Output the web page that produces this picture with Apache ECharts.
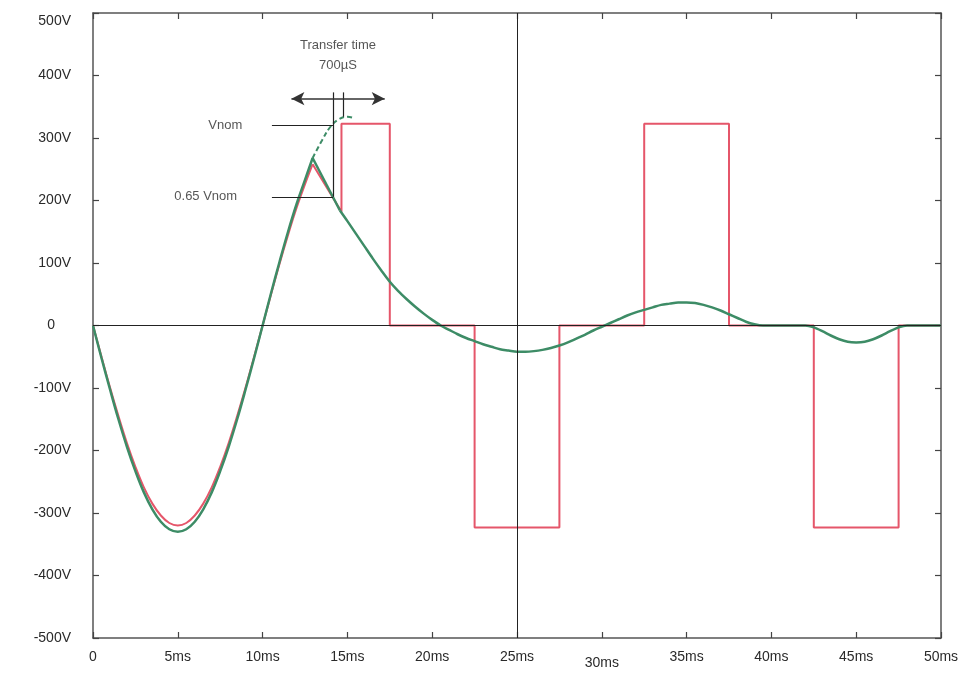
<!DOCTYPE html>
<html><head><meta charset="utf-8">
<script src="https://cdn.jsdelivr.net/npm/echarts@6/dist/echarts.min.js"></script>
<style>html,body{margin:0;padding:0;background:#fff}#c{width:974px;height:675px}</style>
</head><body><div id="c"></div>
<script>
// X ticks (ms) and Y ticks (V)
const xTicks = [0,5,10,15,20,25,30,35,40,45,50];
const yTicks = [-500,-400,-300,-200,-100,0,100,200,300,400,500];

// Output voltage (red): mains sine until failure, then inverter square wave
const redSineT = [0,0.5,1,1.5,2,2.5,3,3.5,4,4.5,5,5.5,6,6.5,7,7.5,8,8.5,9,9.5,10,10.5,11,11.5,12,12.5,12.95];
const redSineV = [0,-50,-99,-145,-188,-226,-259,-285,-304,-316,-320,-316,-304,-285,-259,-226,-188,-145,-99,-50,0,50,99,145,188,226,258];
const redStepT = [12.95,14.65,14.65,17.5,17.5,22.5,22.5,27.5,27.5,32.5,32.5,37.5,37.5,42.5,42.5,47.5,47.5,50];
const redStepV = [258,182,323,323,0,0,-323,-323,0,0,323,323,0,0,-323,-323,0,0];

// Load voltage (green)
const greenSineT = [0,0.5,1,1.5,2,2.5,3,3.5,4,4.5,5,5.5,6,6.5,7,7.5,8,8.5,9,9.5,10,10.5,11,11.5,12,12.5,12.95];
const greenSineV = [0,-52,-102,-150,-194,-233,-267,-294,-314,-326,-330,-326,-314,-294,-267,-233,-194,-150,-102,-52,0,52,102,150,194,233,268];
const greenDropT = [12.95,14.56];
const greenDropV = [268,184];
const greenDecayT = [14.56,15,15.5,16,16.5,17,17.5,18,18.5,19,19.5,20,20.5,21,21.5,22,22.5,23,23.5,24,24.5,25,25.5,26,26.5,27,27.5,28,28.5,29,29.5,30,30.5,31,31.5,32,32.5,33,33.5,34,34.5,35,35.5,36,36.5,37,37.5,38,38.5,39,39.5,40,41,42,42.5,43,43.5,44,44.5,45,45.5,46,46.5,47,47.5,48,49,50];
const greenDecayV = [184,167,147,127,107,88,70,55,42,30,19,9,0,-7,-14,-20,-25,-30,-34,-38,-40,-42,-42,-41,-39,-36,-32,-27,-21,-15,-8,-2,4,10,16,21,25,29,33,35,37,37,36,33,29,24,18,12,6,2,0,0,0,0,-3,-9,-16,-22,-26,-27,-26,-22,-16,-9,-3,0,0,0];
// Mains sine continuation (dashed)
const dashT = [12.95,13.5,14,14.5,15,15.4];
const dashV = [268,296,318,330,334,332];

// Annotations (data units)
const vnomLevel = 320, v065Level = 206;
const annotLeftT = 10.55, cursorT1 = 14.15, cursorT2 = 14.74;
const arrowLevel = 363, arrowLeftT = 11.7, arrowRightT = 17.2, cursorTopV = 373;
const titleLines = ['Transfer time','700µS'];
const titleV = [448, 416];
const labelNames = ['Vnom','0.65 Vnom'];

const zip = (a,b) => a.map((v,i)=>[v,b[i]]);
const red = '#e5566a', green = '#3d8c66', ink = '#2a2a2a';
const font = 'Liberation Sans, Arial, sans-serif';

const chart = echarts.init(document.getElementById('c'), null, {renderer:'canvas'});
const axisCommon = {
  type:'value',
  axisLine:{show:true, onZero:false, lineStyle:{color:'#555', width:1.5}},
  axisTick:{show:true, inside:true, length:6, lineStyle:{color:'#444', width:1.2}},
  splitLine:{show:false}
};
const aLine = {color:'#222', width:1.2, type:'solid'};
const lblRich = {
  low:{padding:[6,0,0,0], fontSize:14, color:ink, fontFamily:font},
  top:{padding:[16,0,0,0], fontSize:14, color:ink, fontFamily:font},
  zero:{padding:[0,16,0,0], fontSize:14, color:ink, fontFamily:font}
};
chart.setOption({
  animation:false,
  grid:{left:93, right:33, top:13, bottom:37},
  xAxis:[
    Object.assign({}, axisCommon, {min:xTicks[0], max:xTicks[xTicks.length-1], interval:5, position:'bottom',
      axisLabel:{margin:12, color:ink, fontSize:14, fontFamily:font,
        formatter:v => v===0 ? '0' : (v===30 ? '{low|30ms}' : v+'ms'), rich:lblRich}}),
    Object.assign({}, axisCommon, {min:xTicks[0], max:xTicks[xTicks.length-1], interval:5, position:'top', axisLabel:{show:false}})
  ],
  yAxis:[
    Object.assign({}, axisCommon, {min:yTicks[0], max:yTicks[yTicks.length-1], interval:100, position:'left',
      axisLabel:{margin:22, color:ink, fontSize:14, fontFamily:font, rich:lblRich,
        formatter:v => v===0 ? '{zero|0}' : (v===500 ? '{top|500V}' : v+'V')}}),
    Object.assign({}, axisCommon, {min:yTicks[0], max:yTicks[yTicks.length-1], interval:100, position:'right', axisLabel:{show:false}})
  ],
  series:[
    {type:'line', data:[], markLine:{silent:true, symbol:'none', label:{show:false}, lineStyle:{color:'#222', width:1, type:'solid'},
      data:[ [{coord:[25,yTicks[0]]},{coord:[25,yTicks[yTicks.length-1]]}], [{coord:[xTicks[0],0]},{coord:[xTicks[xTicks.length-1],0]}] ]}},
    {type:'line', data:zip(redSineT, redSineV), smooth:0.4, showSymbol:false, lineStyle:{color:red, width:2}, z:3},
    {type:'line', data:zip(redStepT, redStepV), smooth:false, showSymbol:false, lineStyle:{color:red, width:2}, z:3},
    {type:'line', data:zip(dashT, dashV), smooth:0.4, showSymbol:false, lineStyle:{color:green, width:2, type:[5,3]}, z:4},
    {type:'line', data:zip(greenSineT, greenSineV), smooth:0.4, showSymbol:false, lineStyle:{color:green, width:2.5}, z:4},
    {type:'line', data:zip(greenDropT, greenDropV), smooth:false, showSymbol:false, lineStyle:{color:green, width:2.5}, z:4},
    {type:'line', data:zip(greenDecayT, greenDecayV), smooth:0.3, showSymbol:false, lineStyle:{color:green, width:2.5}, z:4},
    // annotation lines
    {type:'line', data:[], z:5, markLine:{silent:true, symbol:'none', label:{show:false}, lineStyle:aLine,
      data:[
        [{coord:[annotLeftT,vnomLevel]},{coord:[cursorT1,vnomLevel]}],
        [{coord:[annotLeftT,v065Level]},{coord:[cursorT1,v065Level]}],
        [{coord:[cursorT1,cursorTopV]},{coord:[cursorT1,v065Level]}],
        [{coord:[cursorT2,cursorTopV]},{coord:[cursorT2,dashV[dashV.length-2]]}]
      ]}},
    {type:'line', data:[], z:5, markLine:{silent:true, symbol:['arrow','arrow'], symbolSize:[10,13], label:{show:false}, lineStyle:{color:'#333', width:1.5, type:'solid'},
      data:[ [{coord:[arrowLeftT,arrowLevel]},{coord:[arrowRightT,arrowLevel]}] ]}},
    // annotation texts
    {type:'scatter', symbolSize:0, z:6, silent:true,
      data:[
        {value:[(cursorT1+cursorT2)/2, titleV[0]], label:{formatter:titleLines[0]}},
        {value:[(cursorT1+cursorT2)/2, titleV[1]], label:{formatter:titleLines[1]}}
      ],
      label:{show:true, position:'inside', color:ink, fontSize:13, fontFamily:font}},
    {type:'scatter', symbolSize:0, z:6, silent:true,
      data:[
        {value:[8.8, vnomLevel], label:{formatter:labelNames[0]}},
        {value:[8.5, v065Level], label:{formatter:labelNames[1]}}
      ],
      label:{show:true, position:'left', distance:0, color:ink, fontSize:13, fontFamily:font}}
  ]
});
</script>
</body></html>
